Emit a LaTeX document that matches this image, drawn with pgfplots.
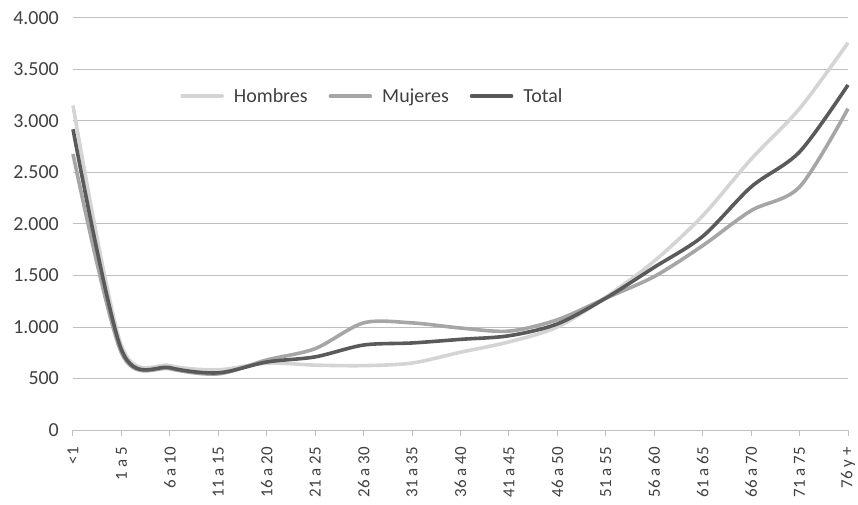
\documentclass[border=0pt]{standalone}
\usepackage{pgfplots}
\pgfplotsset{compat=1.18}
\usepackage{fontspec}
\setmainfont{Carlito}
\definecolor{hom}{HTML}{D4D4D4}
\definecolor{muj}{HTML}{A6A6A6}
\definecolor{tot}{HTML}{5A5A5A}
\definecolor{gridc}{HTML}{BFBFBF}
\definecolor{txt}{HTML}{404040}
\pgfplotstableread{
x hom muj tot
0 3150 2680 2920
1 820 750 780
2 625 595 605
3 585 545 555
4 650 680 660
5 630 790 710
6 625 1040 825
7 650 1040 845
8 755 990 880
9 855 960 915
10 1000 1070 1030
11 1290 1280 1280
12 1640 1490 1580
13 2080 1790 1880
14 2630 2130 2360
15 3120 2360 2700
16 3760 3120 3350
}\datatable
\begin{document}
\begin{tikzpicture}
\begin{axis}[
  scale only axis,
  width=775bp, height=412bp,
  xmin=0, xmax=16, ymin=0, ymax=4000,
  xtick={0,...,16},
  xticklabels={<1,1 a 5,6 a 10,11 a 15,16 a 20,21 a 25,26 a 30,31 a 35,36 a 40,41 a 45,46 a 50,51 a 55,56 a 60,61 a 65,66 a 70,71 a 75,76 y +},
  ytick={0,500,1000,1500,2000,2500,3000,3500,4000},
  yticklabels={0,500,1.000,1.500,2.000,2.500,3.000,3.500,4.000},
  axis x line*=bottom,
  axis y line*=left,
  y axis line style={draw=none},
  ytick style={draw=none},
  x axis line style={draw=gridc, line width=1bp},
  xtick style={draw=gridc, line width=1bp},
  tick align=outside,
  major tick length=6bp,
  ymajorgrids,
  major grid style={draw=gridc, line width=1bp},
  x tick label style={rotate=90, anchor=east, font=\fontsize{17}{19}\selectfont, text=txt, inner xsep=11bp, inner ysep=0bp},
  y tick label style={font=\fontsize{20}{22}\selectfont, text=txt, inner sep=0bp, xshift=-8bp},
  legend style={at={(0.385,0.81)}, anchor=center, draw=none, fill=none,
    font=\fontsize{20}{22}\selectfont, text=txt,
    nodes={inner sep=0bp},
    /tikz/every odd column/.append style={column sep=10bp},
    /tikz/every even column/.append style={column sep=21bp}},
  legend columns=3,
  legend image code/.code={\draw[#1, line cap=round] (0bp,0bp) -- (40bp,0bp);},
  clip=false,
]
\addplot[hom, line width=3.6bp, smooth, tension=0.5] table[x=x, y=hom] {\datatable};
\addlegendentry{Hombres}
\addplot[muj, line width=3.6bp, smooth, tension=0.5] table[x=x, y=muj] {\datatable};
\addlegendentry{Mujeres}
\addplot[tot, line width=3.6bp, smooth, tension=0.5] table[x=x, y=tot] {\datatable};
\addlegendentry{Total}
\end{axis}
\pgfresetboundingbox
\useasboundingbox ([xshift=-73bp,yshift=-75bp]current axis.south west) rectangle ([xshift=10bp,yshift=18bp]current axis.north east);
\end{tikzpicture}
\end{document}
